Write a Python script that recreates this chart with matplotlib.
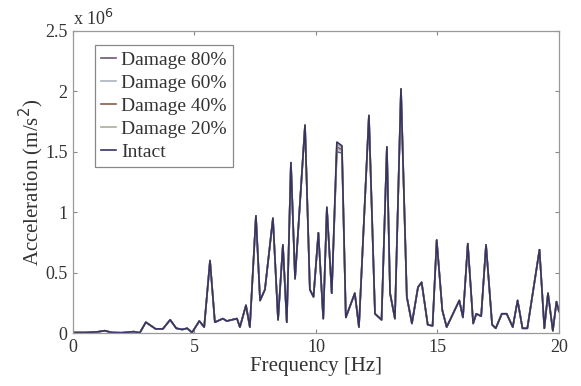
import numpy as np
import matplotlib.pyplot as plt
from matplotlib.ticker import FuncFormatter

plt.rcParams['font.family'] = ['Liberation Serif', 'DejaVu Serif']

# Frequency axis [Hz] and spectral amplitude of the intact case (x 1e6 m/s^2)
freq = [0.0, 0.5, 1.0, 1.3, 1.6, 2.0, 2.5, 2.75, 3.0, 3.4, 3.7, 4.0, 4.25, 4.5,
        4.7, 4.9, 5.2, 5.4, 5.64, 5.84, 6.17, 6.33, 6.54, 6.75, 6.87, 7.12, 7.28,
        7.53, 7.7, 7.9, 8.23, 8.44, 8.64, 8.8, 8.97, 9.14, 9.55, 9.75, 9.9, 10.1,
        10.3, 10.45, 10.65, 10.86, 11.07, 11.23, 11.6, 11.77, 12.18, 12.43, 12.7,
        12.92, 13.05, 13.25, 13.5, 13.74, 13.95, 14.2, 14.35, 14.6, 14.8, 14.97,
        15.2, 15.38, 15.9, 16.05, 16.25, 16.47, 16.6, 16.8, 17.0, 17.25, 17.4,
        17.65, 17.85, 18.1, 18.3, 18.5, 18.7, 19.2, 19.4, 19.55, 19.75, 19.9, 20.0]
intact = [0.005, 0.005, 0.01, 0.02, 0.005, 0.003, 0.012, 0.003, 0.09, 0.035, 0.035,
          0.11, 0.04, 0.03, 0.04, 0.005, 0.10, 0.05, 0.60, 0.09, 0.12, 0.10, 0.11,
          0.12, 0.05, 0.23, 0.05, 0.97, 0.27, 0.36, 0.95, 0.11, 0.73, 0.09, 1.41,
          0.45, 1.72, 0.36, 0.30, 0.83, 0.12, 1.04, 0.33, 1.58, 1.55, 0.13, 0.33,
          0.05, 1.80, 0.16, 0.11, 1.54, 0.33, 0.12, 2.02, 0.30, 0.08, 0.38, 0.42,
          0.07, 0.06, 0.77, 0.19, 0.05, 0.27, 0.13, 0.74, 0.08, 0.16, 0.14, 0.73,
          0.07, 0.04, 0.16, 0.16, 0.05, 0.27, 0.04, 0.04, 0.69, 0.04, 0.33, 0.02,
          0.26, 0.18]

# The damaged cases only separate around the 11 Hz double peak
peak_idx = [43, 44]
damage_80_peak = [1.50, 1.49]
damage_60_peak = [1.52, 1.51]
damage_40_peak = [1.54, 1.52]
damage_20_peak = [1.56, 1.54]

labels = ['Damage 80%', 'Damage 60%', 'Damage 40%', 'Damage 20%', 'Intact']
colors = ['#6b5a70', '#aab4bf', '#8e5a4c', '#a9ae99', '#34346a']

series = []
for pk in [damage_80_peak, damage_60_peak, damage_40_peak, damage_20_peak]:
    y = np.array(intact, dtype=float)
    y[peak_idx] = pk
    series.append(y)
series.append(np.array(intact, dtype=float))

fig = plt.figure(figsize=(5.81, 3.86), dpi=100)
ax = fig.add_axes([0.1256, 0.137, 0.8364, 0.783])

for y, lbl, c in zip(series, labels, colors):
    ax.plot(freq, y * 1e6, color=c, lw=1.2, label=lbl)

ax.set_xlim(0, 20)
ax.set_ylim(0, 2.5e6)
ax.set_xticks([0, 5, 10, 15, 20])
ax.set_yticks([0, 0.5e6, 1e6, 1.5e6, 2e6, 2.5e6])
ax.yaxis.set_major_formatter(FuncFormatter(lambda v, p: f'{v / 1e6:g}'))
ax.tick_params(direction='in', top=True, right=True, labelsize=13,
               length=3, color='#888888', colors='#333333', pad=4)
for sp in ax.spines.values():
    sp.set_color('#999999')
    sp.set_linewidth(0.9)

ax.text(0.0, 1.005, r'x 10$^6$', transform=ax.transAxes, fontsize=13,
        color='#333333', ha='left', va='bottom')

ax.set_xlabel('Frequency [Hz]', fontsize=15, color='#333333', labelpad=1)
ax.set_ylabel(r'Acceleration (m/s$^2$)', fontsize=15, color='#333333')
ax.yaxis.set_label_coords(-0.055, 0.5)

leg = ax.legend(loc='upper left', bbox_to_anchor=(0.025, 0.985), fontsize=14,
                handlelength=0.8, handletextpad=0.25, borderpad=0.3,
                labelspacing=0.28, fancybox=False, framealpha=1)
leg.get_frame().set_edgecolor('#888888')
leg.get_frame().set_linewidth(0.9)
for t in leg.get_texts():
    t.set_color('#333333')

fig.savefig('out.png', dpi=100)
